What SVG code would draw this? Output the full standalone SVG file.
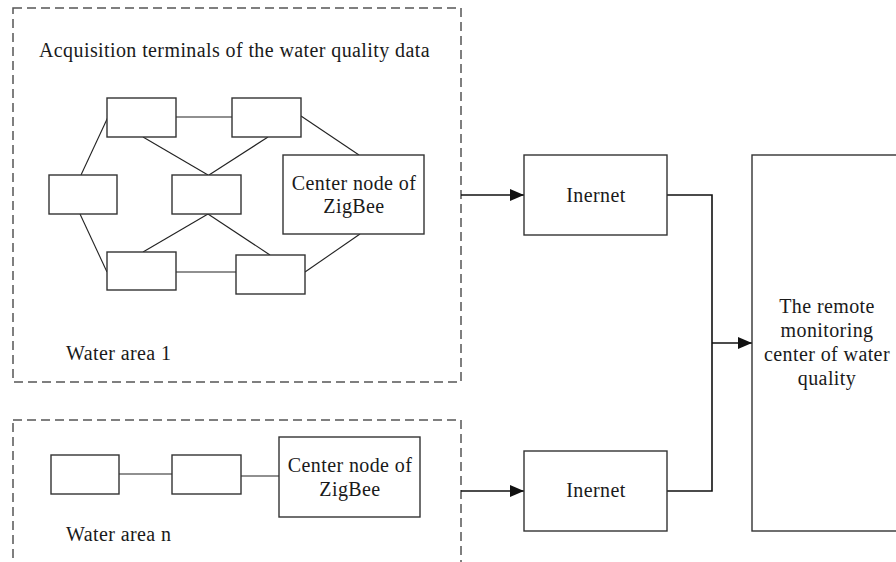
<svg xmlns="http://www.w3.org/2000/svg" width="896" height="562" viewBox="0 0 896 562">
<style>
text{font-family:"Liberation Serif","Times New Roman",serif;font-size:20px;fill:#1a1a1a;letter-spacing:0.4px}
.area{fill:none;stroke:#555;stroke-width:1.5;stroke-dasharray:9,5}
.box{fill:#fff;stroke:#333;stroke-width:1.4}
.link{stroke:#222;stroke-width:1.1;fill:none}
.arrow{stroke:#111;stroke-width:1.6;fill:none}
.mid{text-anchor:middle}
</style>
<defs>
<marker id="ah" viewBox="0 0 14 12" refX="14" refY="6" markerWidth="14" markerHeight="12" markerUnits="userSpaceOnUse" orient="auto">
<path d="M0,0 L14,6 L0,12 z" fill="#111"/>
</marker>
</defs>
<rect width="896" height="562" fill="#fff"/>

<g id="area1">
<rect class="area" x="13" y="8" width="448" height="374"/>
<text x="39" y="57">Acquisition terminals of the water quality data</text>
<text x="66" y="360">Water area 1</text>
</g>
<g id="arean">
<rect class="area" x="13" y="420" width="448" height="160"/>
<text x="66" y="541">Water area n</text>
</g>

<g id="connectors">
<line class="link" x1="176" y1="117" x2="232" y2="117"/>
<line class="link" x1="108" y1="117" x2="81" y2="175"/>
<line class="link" x1="143" y1="137" x2="208" y2="175"/>
<line class="link" x1="268" y1="137" x2="209" y2="175"/>
<line class="link" x1="301" y1="116" x2="359" y2="155"/>
<line class="link" x1="80" y1="214" x2="107" y2="272"/>
<line class="link" x1="208" y1="214" x2="143" y2="252"/>
<line class="link" x1="208" y1="214" x2="270" y2="255"/>
<line class="link" x1="176" y1="272" x2="236" y2="272"/>
<line class="link" x1="360" y1="234" x2="305" y2="272"/>
<line class="link" x1="119" y1="474" x2="172" y2="474"/>
<line class="link" x1="241" y1="476" x2="279" y2="476"/>
<line class="arrow" x1="461" y1="195" x2="524" y2="195" marker-end="url(#ah)"/>
<line class="arrow" x1="461" y1="491" x2="524" y2="491" marker-end="url(#ah)"/>
<polyline class="arrow" points="667,195 712,195 712,491 667,491"/>
<line class="arrow" x1="712" y1="343" x2="752" y2="343" marker-end="url(#ah)"/>
</g>

<g id="t1"><rect class="box" x="107" y="98" width="69" height="39"/></g>
<g id="t2"><rect class="box" x="232" y="98" width="69" height="39"/></g>
<g id="t3"><rect class="box" x="49" y="175" width="68" height="39"/></g>
<g id="t4"><rect class="box" x="172" y="175" width="69" height="39"/></g>
<g id="t5"><rect class="box" x="107" y="252" width="69" height="38"/></g>
<g id="t6"><rect class="box" x="236" y="255" width="69" height="39"/></g>
<g id="center1">
<rect class="box" x="283" y="155" width="141" height="79"/>
<text class="mid" x="354" y="190">Center node of</text>
<text class="mid" x="354" y="213">ZigBee</text>
</g>

<g id="n1"><rect class="box" x="51" y="455" width="68" height="39"/></g>
<g id="n2"><rect class="box" x="172" y="455" width="69" height="39"/></g>
<g id="centern">
<rect class="box" x="279" y="437" width="141" height="80"/>
<text class="mid" x="350" y="472">Center node of</text>
<text class="mid" x="350" y="496">ZigBee</text>
</g>

<g id="internet1">
<rect class="box" x="524" y="155" width="143" height="80"/>
<text class="mid" x="596" y="202">Inernet</text>
</g>
<g id="internet2">
<rect class="box" x="524" y="451" width="143" height="80"/>
<text class="mid" x="596" y="497">Inernet</text>
</g>

<g id="monitor">
<rect class="box" x="752" y="155" width="160" height="376"/>
<text class="mid" x="827" y="313">The remote</text>
<text class="mid" x="827" y="337">monitoring</text>
<text class="mid" x="827" y="361">center of water</text>
<text class="mid" x="827" y="385">quality</text>
</g>
</svg>
